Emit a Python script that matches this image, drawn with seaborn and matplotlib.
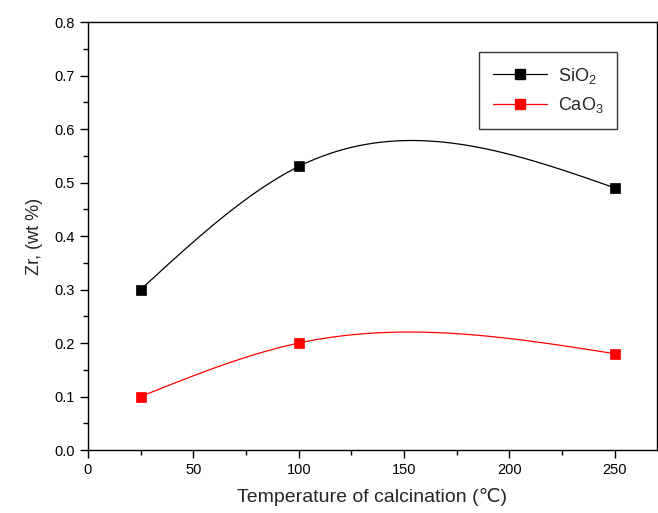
import numpy as np
import pandas as pd
import matplotlib
matplotlib.use("Agg")
import matplotlib.pyplot as plt
from matplotlib.lines import Line2D
from matplotlib.ticker import MultipleLocator
import seaborn as sns

# data
temps = [25, 100, 250]
sio2 = [0.30, 0.53, 0.49]
cao3 = [0.10, 0.20, 0.18]
x_ticks = [0, 50, 100, 150, 200, 250]
y_ticks = [0.0, 0.1, 0.2, 0.3, 0.4, 0.5, 0.6, 0.7, 0.8]

sns.set_theme(style="ticks")
plt.rcParams['font.family'] = ['Liberation Sans', 'DejaVu Sans']
plt.rcParams['mathtext.fontset'] = 'custom'
plt.rcParams['mathtext.rm'] = 'Liberation Sans'
plt.rcParams['mathtext.it'] = 'Liberation Sans'


def natural_spline(x, y, n=200):
    # natural cubic spline like the Origin "spline" connect style
    x = np.asarray(x, float)
    y = np.asarray(y, float)
    h = np.diff(x)
    k = len(x)
    A = np.zeros((k, k))
    r = np.zeros(k)
    A[0, 0] = A[-1, -1] = 1
    for i in range(1, k - 1):
        A[i, i - 1] = h[i - 1]
        A[i, i] = 2 * (h[i - 1] + h[i])
        A[i, i + 1] = h[i]
        r[i] = 6 * ((y[i + 1] - y[i]) / h[i] - (y[i] - y[i - 1]) / h[i - 1])
    M = np.linalg.solve(A, r)
    xs = np.linspace(x[0], x[-1], n)
    ys = np.empty_like(xs)
    for j, xv in enumerate(xs):
        i = min(np.searchsorted(x, xv, side='right') - 1, k - 2)
        a, b = x[i], x[i + 1]
        hi = b - a
        ys[j] = (M[i] * (b - xv) ** 3 / (6 * hi) + M[i + 1] * (xv - a) ** 3 / (6 * hi)
                 + (y[i] / hi - M[i] * hi / 6) * (b - xv)
                 + (y[i + 1] / hi - M[i + 1] * hi / 6) * (xv - a))
    return xs, ys


fig = plt.figure(figsize=(6.58, 5.13), dpi=100)
ax = fig.add_axes([0.1337, 0.1228, 0.8648, 0.8342])

series = [("SiO$_2$", sio2, "black"), ("CaO$_3$", cao3, "#ff0000")]
for name, vals, col in series:
    xs, ys = natural_spline(temps, vals)
    sns.lineplot(x=xs, y=ys, ax=ax, color=col, linewidth=0.9, sort=False)
    sns.scatterplot(x=temps, y=vals, ax=ax, color=col, marker="s", s=55,
                    edgecolor=col, linewidth=0.5, zorder=3)

ax.set_xlim(0, 270)
ax.set_ylim(0, 0.8)
ax.set_xticks(x_ticks)
ax.set_yticks(y_ticks)
ax.set_yticklabels([f"{v:.1f}" for v in y_ticks])
ax.xaxis.set_minor_locator(MultipleLocator(25))
ax.yaxis.set_minor_locator(MultipleLocator(0.05))
ax.tick_params(which='major', direction='out', length=6, width=1, labelsize=10.5, color='black', labelcolor='black')
ax.tick_params(which='minor', direction='out', length=3.5, width=1, color='black')
for sp in ax.spines.values():
    sp.set_visible(True)
    sp.set_color('black')
    sp.set_linewidth(1)

ax.set_xlabel("Temperature of calcination (\u2103)", fontsize=14, labelpad=8)
ax.set_ylabel("Zr, (wt %)", fontsize=13, labelpad=8)

handles = [Line2D([], [], color=c, marker='s', markersize=7, linewidth=0.9, label=n)
           for n, _, c in series]
leg = ax.legend(handles=handles, loc='upper right', bbox_to_anchor=(0.93, 0.93),
                borderaxespad=0, fontsize=13, frameon=True, fancybox=False,
                edgecolor='black', handlelength=3.0, borderpad=0.75,
                labelspacing=0.55, handletextpad=0.6)
leg.get_frame().set_linewidth(1)

fig.savefig("out.png", dpi=100)
